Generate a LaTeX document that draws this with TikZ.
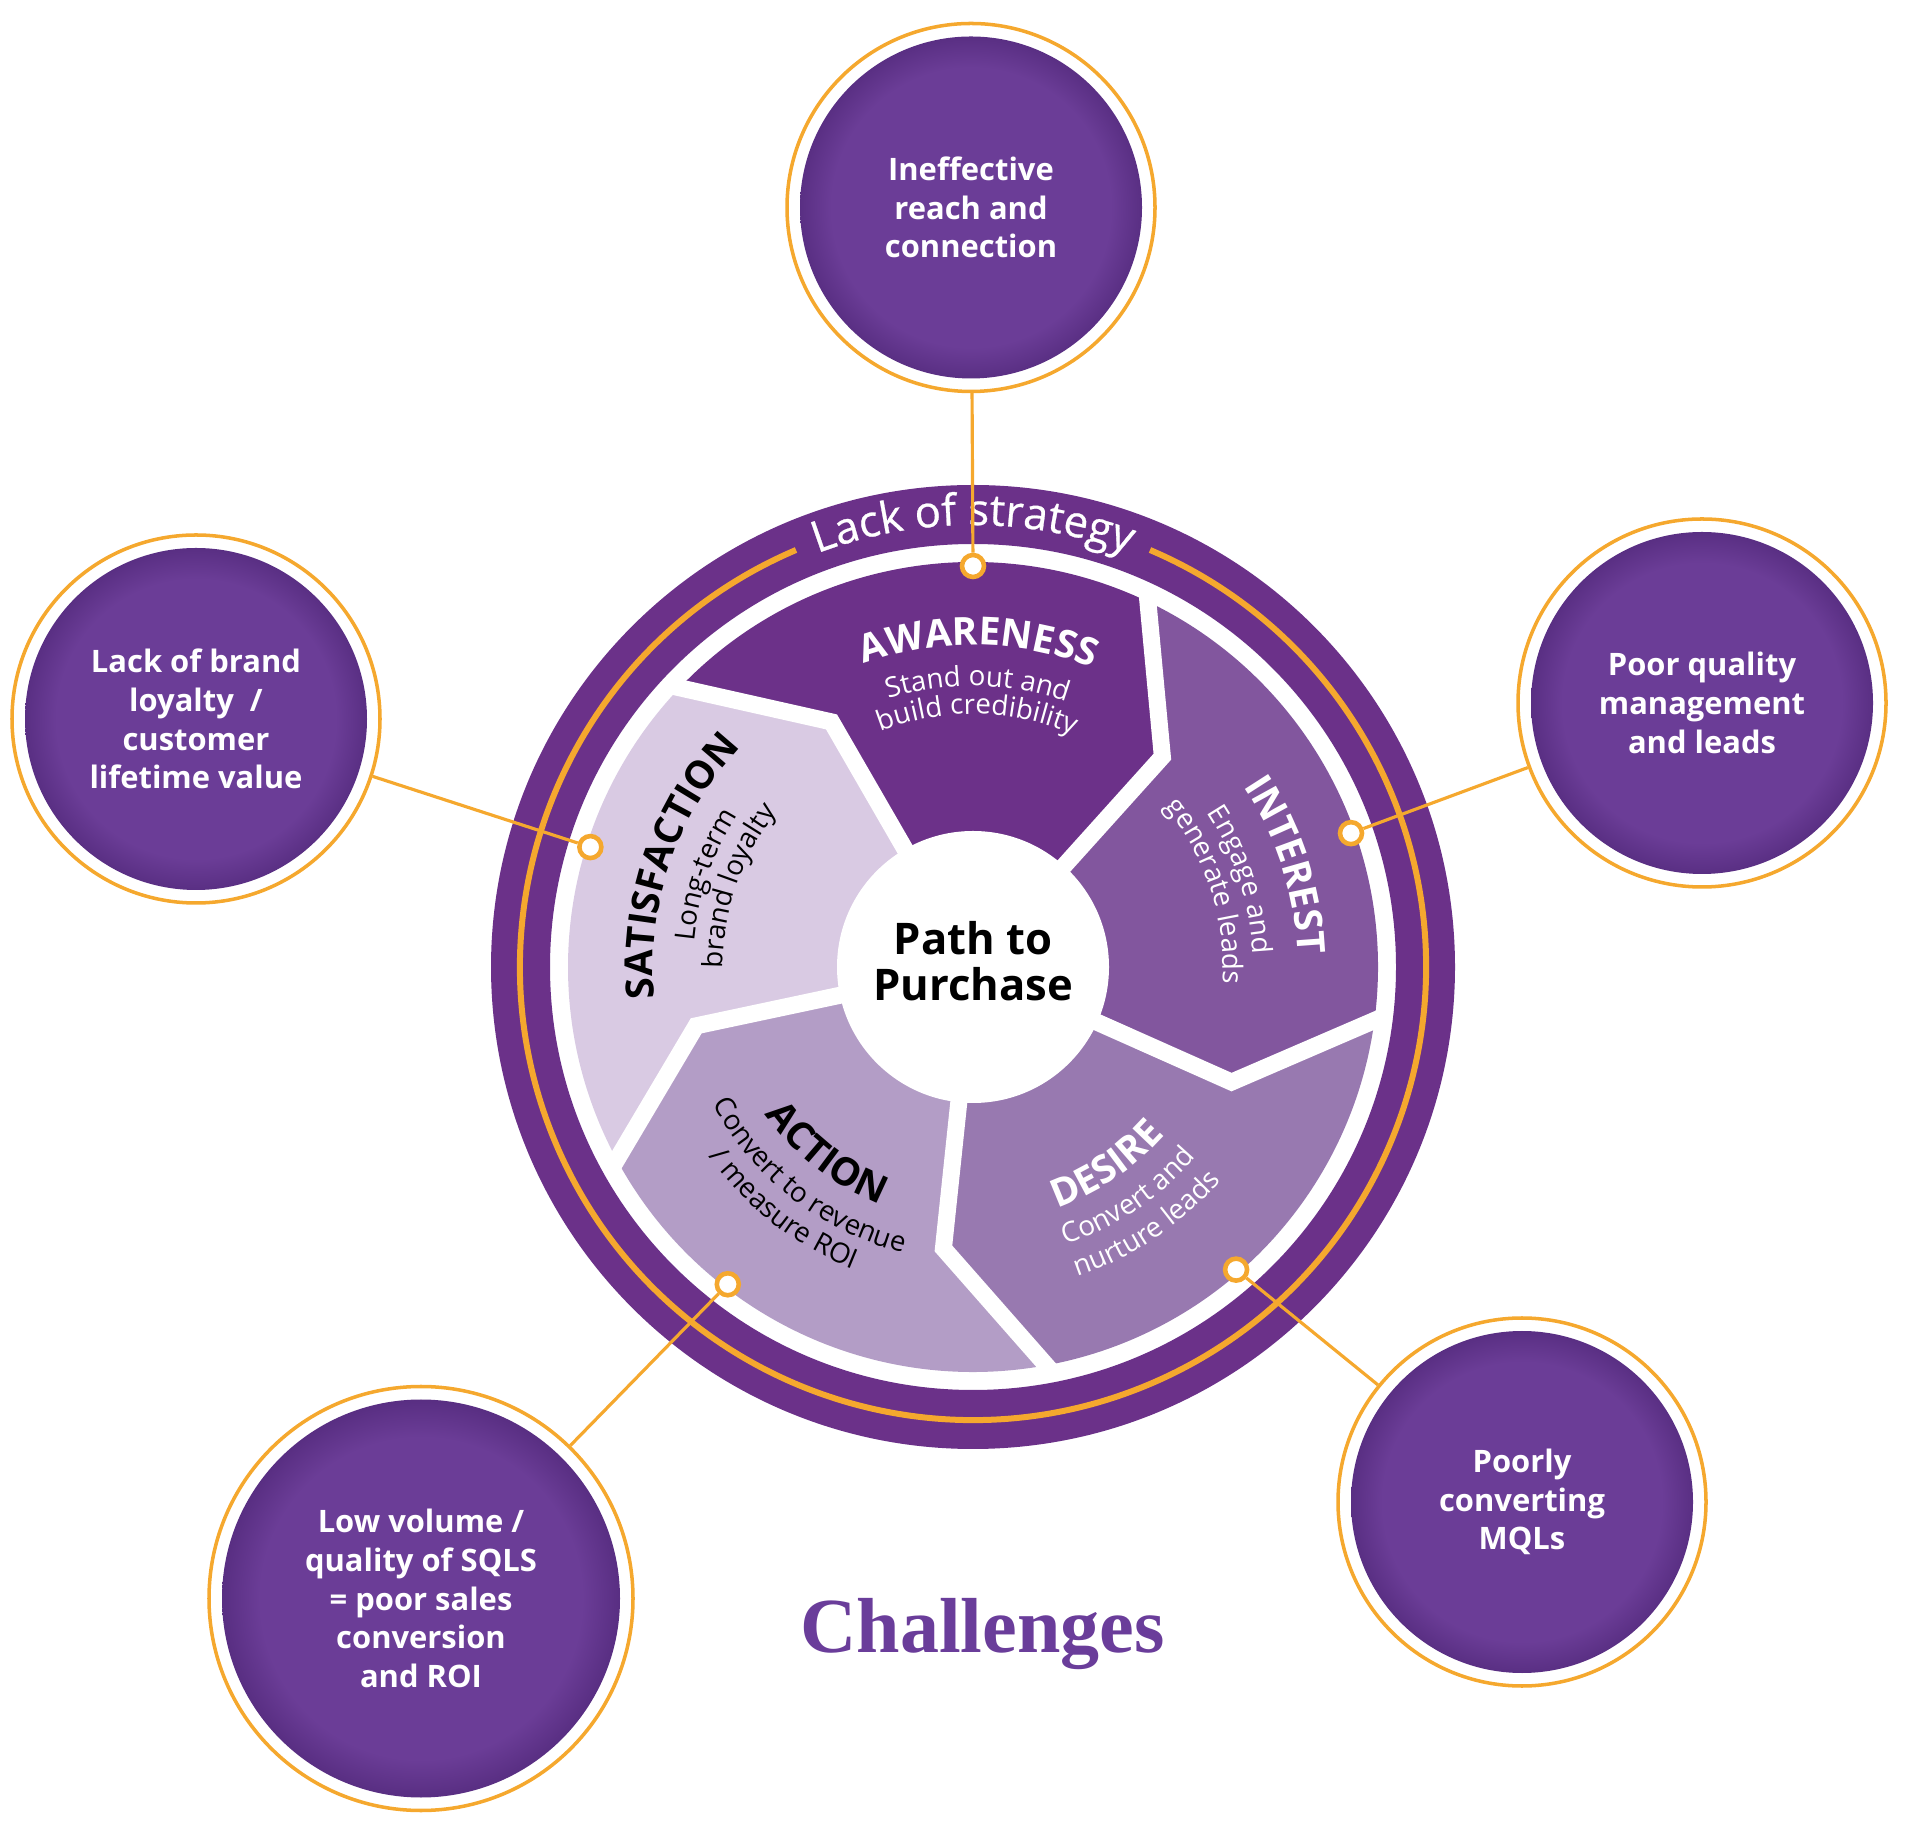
\documentclass[tikz,border=0pt]{standalone}
\usepackage{fontspec}
\setmainfont{Open Sans}
\newfontfamily\headfont{Liberation Serif}
\usetikzlibrary{decorations.text}

\definecolor{ringpurple}{HTML}{6B3189}
\definecolor{awarecol}{HTML}{6C3189}
\definecolor{interestcol}{HTML}{82569E}
\definecolor{desirecol}{HTML}{9879B0}
\definecolor{actioncol}{HTML}{B39DC6}
\definecolor{satiscol}{HTML}{D9CAE3}
\definecolor{linkorange}{HTML}{F5A82E}
\definecolor{ballin}{HTML}{6B3D97}
\definecolor{ballout}{HTML}{52297B}
\definecolor{headpurple}{HTML}{6A3D9A}
\pgfdeclareradialshading{ballpurple}{\pgfpoint{0bp}{0bp}}{color(0bp)=(ballin); color(19bp)=(ballin); color(25bp)=(ballout); color(50bp)=(ballout)}

\newcommand\stagetitle{\fontsize{11}{12}\selectfont\bfseries}
\newcommand\stagenote{\fontsize{7.9}{9}\selectfont}
\newcommand\ringfont{\fontsize{12.4}{14}\selectfont\addfontfeature{FakeBold=0.6}}

\tikzset{
  challenge/.style={circle, draw=linkorange, line width=1pt, fill=white, minimum size=#1, inner sep=0pt,
    text=white, align=center, font=\fontsize{8.8}{11}\selectfont\bfseries,
    path picture={\shade[shading=ballpurple] (path picture bounding box.center) circle (#1/2-0.13cm);}},
  challenge/.default=3.68cm,
  pindot/.style={circle, fill=white, draw=linkorange, line width=1.3pt, inner sep=0pt, minimum size=0.22cm},
  connector/.style={linkorange, line width=0.9pt},
  gapline/.style={white, line width=0.17cm, line join=miter},
  arctext/.style={decorate, decoration={text along path, text align=center, text={#1}}}
}

\begin{document}
\begin{tikzpicture}
	\useasboundingbox (0,0) rectangle (19.2,18.3);
	\coordinate (hub) at (9.73,8.63);
	\begin{scope}[shift={(hub)}]
	% five stages
	\fill[awarecol] (0,0) -- (120:2.83) -- (137:4.05) arc[start angle=137, end angle=65, radius=4.05] -- (48:2.83) -- cycle;
	\fill[interestcol] (0,0) -- (48:2.83) -- (65:4.05) arc[start angle=65, end angle=-7, radius=4.05] -- (-24:2.83) -- cycle;
	\fill[desirecol] (0,0) -- (-24:2.83) -- (-7:4.05) arc[start angle=-7, end angle=-79, radius=4.05] -- (-96:2.83) -- cycle;
	\fill[actioncol] (0,0) -- (-96:2.83) -- (-79:4.05) arc[start angle=-79, end angle=-151, radius=4.05] -- (-168:2.83) -- cycle;
	\fill[satiscol] (0,0) -- (192:2.83) -- (209:4.05) arc[start angle=209, end angle=137, radius=4.05] -- (120:2.83) -- cycle;
	\draw[gapline] (0,0) -- (120:2.83) -- (137:4.12);
	\draw[gapline] (0,0) -- (48:2.83) -- (65:4.12);
	\draw[gapline] (0,0) -- (-24:2.83) -- (-7:4.12);
	\draw[gapline] (0,0) -- (-96:2.83) -- (-79:4.12);
	\draw[gapline] (0,0) -- (192:2.83) -- (209:4.12);
	\fill[white] (0,0) circle (1.36);
	\node[font=\fontsize{12.4}{13.1}\selectfont\bfseries, align=center] (hubtext) at (0,0.06) {Path to\\Purchase};
	% outer ring
	\draw[ringpurple, line width=0.59cm] (0,0) circle (4.525);
	\draw[linkorange, line width=0.06cm] (113:4.53) arc[start angle=113, end angle=427, radius=4.53];
	\path[arctext={|\ringfont\color{white}|Lack of strategy}] (140:4.42) arc[start angle=140, end angle=40, radius=4.42];
	% stage labels
	\path[arctext={|\stagetitle\color{white}|AWARENESS}] (139:3.22) arc[start angle=139, end angle=39, radius=3.22];
	\path[arctext={|\stagenote\color{white}|Stand out and}] (139:2.81) arc[start angle=139, end angle=39, radius=2.81];
	\path[arctext={|\stagenote\color{white}|build credibility}] (139:2.53) arc[start angle=139, end angle=39, radius=2.53];
	\path[arctext={|\stagetitle\color{white}|INTEREST}] (68:3.25) arc[start angle=68, end angle=-32, radius=3.25];
	\path[arctext={|\stagenote\color{white}|Engage and}] (68:2.80) arc[start angle=68, end angle=-32, radius=2.80];
	\path[arctext={|\stagenote\color{white}|generate leads}] (68:2.50) arc[start angle=68, end angle=-32, radius=2.50];
	\path[arctext={|\stagetitle\color{white}|DESIRE}] (-106:2.55) arc[start angle=-106, end angle=-6, radius=2.55];
	\path[arctext={|\stagenote\color{white}|Convert and}] (-106:2.93) arc[start angle=-106, end angle=-6, radius=2.93];
	\path[arctext={|\stagenote\color{white}|nurture leads}] (-106:3.27) arc[start angle=-106, end angle=-6, radius=3.27];
	\path[arctext={|\stagetitle\color{black}|ACTION}] (-178:2.55) arc[start angle=-178, end angle=-78, radius=2.55];
	\path[arctext={|\stagenote\color{black}|Convert to revenue}] (-178:2.94) arc[start angle=-178, end angle=-78, radius=2.94];
	\path[arctext={|\stagenote\color{black}|/ measure ROI}] (-178:3.25) arc[start angle=-178, end angle=-78, radius=3.25];
	\path[arctext={|\stagetitle\color{black}|SATISFACTION}] (211:3.20) arc[start angle=211, end angle=111, radius=3.20];
	\path[arctext={|\stagenote\color{black}|Long-term}] (211:2.80) arc[start angle=211, end angle=111, radius=2.80];
	\path[arctext={|\stagenote\color{black}|brand loyalty}] (211:2.50) arc[start angle=211, end angle=111, radius=2.50];
	% pins on the wheel
	\node[pindot] (d-reach) at (90:4.01) {};
	\node[pindot] (d-loyal) at (162.6:4.01) {};
	\node[pindot] (d-quality) at (19.5:4.01) {};
	\node[pindot] (d-sqls) at (-127.7:4.01) {};
	\node[pindot] (d-mqls) at (-49:4.01) {};
	\end{scope}
	% challenges
	\node[challenge] (reach) at (9.71,16.225) {Ineffective\\reach and\\connection};
	\node[challenge] (loyal) at (1.96,11.11) {Lack of brand\\loyalty\ \ /\\customer\\lifetime value};
	\node[challenge] (quality) at (17.02,11.27) {Poor quality\\management\\and leads};
	\node[challenge=4.24cm] (sqls) at (4.21,2.315) {Low volume /\\quality of SQLS\\= poor sales\\conversion\\and ROI};
	\node[challenge] (mqls) at (15.22,3.28) {Poorly\\converting\\MQLs};
	\draw[connector] (reach) -- (d-reach);
	\draw[connector] (loyal) -- (d-loyal);
	\draw[connector] (quality) -- (d-quality);
	\draw[connector] (sqls) -- (d-sqls);
	\draw[connector] (mqls) -- (d-mqls);
	\node[anchor=base, text=headpurple, font=\headfont\fontsize{22.2}{26}\selectfont\bfseries] (heading) at (9.825,1.78) {Challenges};
\end{tikzpicture}
\end{document}
